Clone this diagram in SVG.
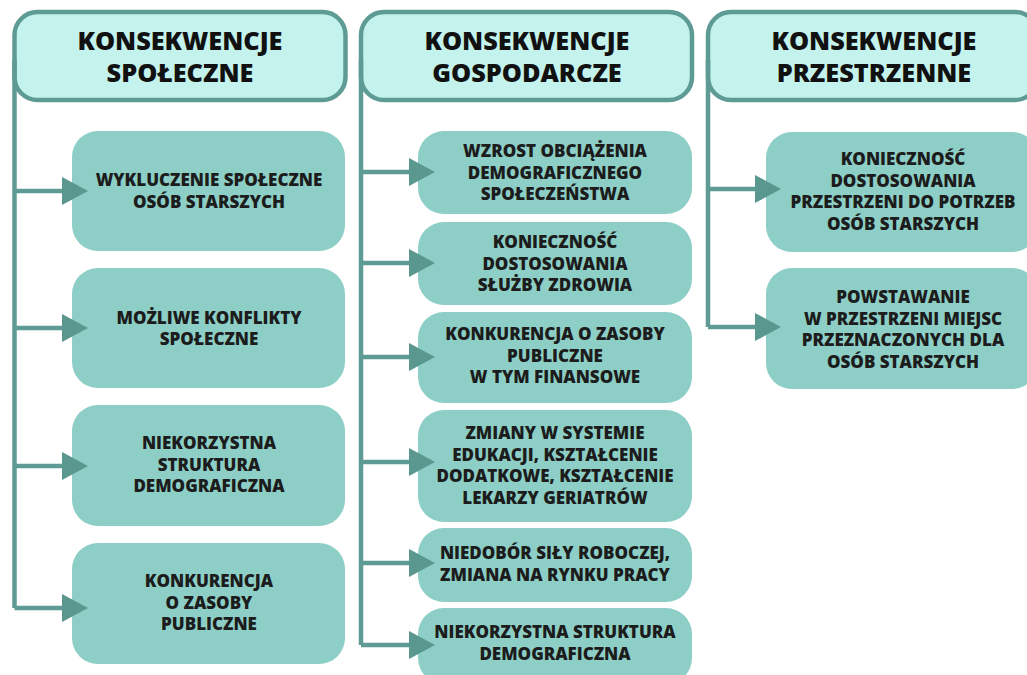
<svg xmlns="http://www.w3.org/2000/svg" width="1027" height="675" viewBox="0 0 1027 675">
<style>
.hdr{fill:#c4f3ee;stroke:#5e9b94;stroke-width:4.5}
.box{fill:#8dcfc6}
.ht{font-family:"Open Sans","Liberation Sans",sans-serif;font-weight:800;font-size:25.3px;fill:#111;text-anchor:middle}
.bt{font-family:"Open Sans","Liberation Sans",sans-serif;font-weight:800;font-size:17px;fill:#1c1c1c;text-anchor:middle}
.ln{stroke:#5e9b94;stroke-width:4.5;fill:none}
.ah{fill:#5a978f}
</style>
<rect width="1027" height="675" fill="#ffffff"/>
<g id="h1"><rect class="hdr" x="14.5" y="12" width="331" height="88" rx="23"/>
<text class="ht" x="180" y="50">KONSEKWENCJE</text><text class="ht" x="180" y="82">SPOŁECZNE</text></g>
<g id="h2"><rect class="hdr" x="361" y="12" width="331" height="88" rx="23"/>
<text class="ht" x="527" y="50">KONSEKWENCJE</text><text class="ht" x="527" y="82">GOSPODARCZE</text></g>
<g id="h3"><rect class="hdr" x="708" y="12" width="330" height="88" rx="23"/>
<text class="ht" x="874" y="50">KONSEKWENCJE</text><text class="ht" x="874" y="82">PRZESTRZENNE</text></g>

<g id="s1"><rect class="box" x="72" y="131" width="273" height="120" rx="26"/>
<text class="bt" x="209" y="186">WYKLUCZENIE SPOŁECZNE</text><text class="bt" x="209" y="207.5">OSÓB STARSZYCH</text></g>
<g id="s2"><rect class="box" x="72" y="268" width="273" height="120" rx="26"/>
<text class="bt" x="209" y="323.5">MOŻLIWE KONFLIKTY</text><text class="bt" x="209" y="345">SPOŁECZNE</text></g>
<g id="s3"><rect class="box" x="72" y="405" width="273" height="121" rx="26"/>
<text class="bt" x="209" y="449">NIEKORZYSTNA</text><text class="bt" x="209" y="470.5">STRUKTURA</text><text class="bt" x="209" y="492">DEMOGRAFICZNA</text></g>
<g id="s4"><rect class="box" x="72" y="543" width="273" height="121" rx="26"/>
<text class="bt" x="209" y="587">KONKURENCJA</text><text class="bt" x="209" y="608.5">O ZASOBY</text><text class="bt" x="209" y="630">PUBLICZNE</text></g>

<g id="g1"><rect class="box" x="418" y="131" width="274" height="83" rx="26"/>
<text class="bt" x="555" y="157">WZROST OBCIĄŻENIA</text><text class="bt" x="555" y="178.5">DEMOGRAFICZNEGO</text><text class="bt" x="555" y="200">SPOŁECZEŃSTWA</text></g>
<g id="g2"><rect class="box" x="418" y="222" width="274" height="83" rx="26"/>
<text class="bt" x="555" y="248">KONIECZNOŚĆ</text><text class="bt" x="555" y="269.5">DOSTOSOWANIA</text><text class="bt" x="555" y="291">SŁUŻBY ZDROWIA</text></g>
<g id="g3"><rect class="box" x="418" y="312" width="274" height="91" rx="26"/>
<text class="bt" x="555" y="340">KONKURENCJA O ZASOBY</text><text class="bt" x="555" y="361.5">PUBLICZNE</text><text class="bt" x="555" y="383">W TYM FINANSOWE</text></g>
<g id="g4"><rect class="box" x="418" y="410" width="274" height="112" rx="26"/>
<text class="bt" x="555" y="439">ZMIANY W SYSTEMIE</text><text class="bt" x="555" y="460.5">EDUKACJI, KSZTAŁCENIE</text><text class="bt" x="555" y="482">DODATKOWE, KSZTAŁCENIE</text><text class="bt" x="555" y="503.5">LEKARZY GERIATRÓW</text></g>
<g id="g5"><rect class="box" x="418" y="528" width="274" height="74" rx="26"/>
<text class="bt" x="555" y="559">NIEDOBÓR SIŁY ROBOCZEJ,</text><text class="bt" x="555" y="580.5">ZMIANA NA RYNKU PRACY</text></g>
<g id="g6"><rect class="box" x="418" y="608" width="274" height="76" rx="26"/>
<text class="bt" x="555" y="638">NIEKORZYSTNA STRUKTURA</text><text class="bt" x="555" y="659.5">DEMOGRAFICZNA</text></g>

<g id="p1"><rect class="box" x="766" y="132" width="272" height="120" rx="26"/>
<text class="bt" x="903" y="165">KONIECZNOŚĆ</text><text class="bt" x="903" y="186.5">DOSTOSOWANIA</text><text class="bt" x="903" y="208">PRZESTRZENI DO POTRZEB</text><text class="bt" x="903" y="229.5">OSÓB STARSZYCH</text></g>
<g id="p2"><rect class="box" x="766" y="268" width="272" height="121" rx="26"/>
<text class="bt" x="903" y="303">POWSTAWANIE</text><text class="bt" x="903" y="324.5">W PRZESTRZENI MIEJSC</text><text class="bt" x="903" y="346">PRZEZNACZONYCH DLA</text><text class="bt" x="903" y="367.5">OSÓB STARSZYCH</text></g>

<g id="connectors">
<path class="ln" d="M14.5 60 V608 M361 60 V645 M708 60 V327"/>
<path class="ln" d="M14.5 191 H64 M14.5 328 H64 M14.5 466 H64 M14.5 608 H64"/>
<path class="ln" d="M361 172 H411 M361 263 H411 M361 357 H411 M361 462 H411 M361 563 H411 M361 645 H411"/>
<path class="ln" d="M708 189 H757 M708 327 H757"/>
<polygon class="ah" points="62,177 88,191 62,205"/>
<polygon class="ah" points="62,314 88,328 62,342"/>
<polygon class="ah" points="62,452 88,466 62,480"/>
<polygon class="ah" points="62,594 88,608 62,622"/>
<polygon class="ah" points="409,158 435,172 409,186"/>
<polygon class="ah" points="409,249 435,263 409,277"/>
<polygon class="ah" points="409,343 435,357 409,371"/>
<polygon class="ah" points="409,448 435,462 409,476"/>
<polygon class="ah" points="409,549 435,563 409,577"/>
<polygon class="ah" points="409,631 435,645 409,659"/>
<polygon class="ah" points="755,175 781,189 755,203"/>
<polygon class="ah" points="755,313 781,327 755,341"/>
</g>
</svg>
